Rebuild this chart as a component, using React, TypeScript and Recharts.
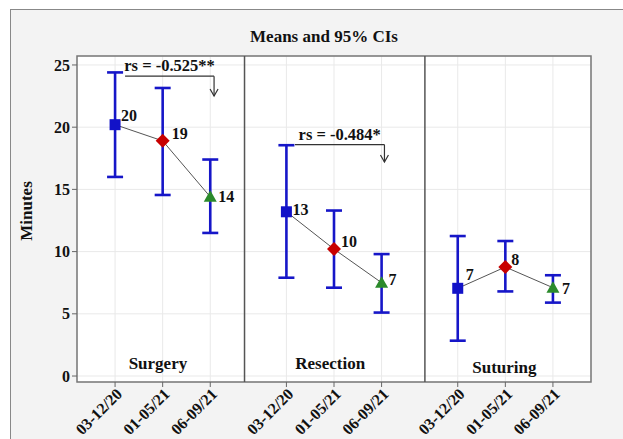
import React from 'react';
import {
  ComposedChart,
  Scatter,
  XAxis,
  YAxis,
  CartesianGrid,
  ErrorBar,
  ReferenceLine,
  ReferenceArea,
  ReferenceDot,
} from 'recharts';

// ---------------- data ----------------
const procedures = ['Surgery', 'Resection', 'Suturing'];
const periods = ['03-12/20', '01-05/21', '06-09/21'];
const yTicks = [0, 5, 10, 15, 20, 25];

const surgeryMean = [20.2, 18.9, 14.4];
const surgeryLower = [16.0, 14.55, 11.5];
const surgeryUpper = [24.4, 23.15, 17.4];
const surgeryLabels = ['20', '19', '14'];

const resectionMean = [13.2, 10.2, 7.5];
const resectionLower = [7.9, 7.1, 5.1];
const resectionUpper = [18.55, 13.3, 9.8];
const resectionLabels = ['13', '10', '7'];

const suturingMean = [7.05, 8.76, 7.1];
const suturingLower = [2.84, 6.8, 5.9];
const suturingUpper = [11.25, 10.85, 8.1];
const suturingLabels = ['7', '8', '7'];

const correlationTexts = ['rs = -0.525**', 'rs = -0.484*'];

// ---------------- layout / style ----------------
const FONT = '"Liberation Serif", "Times New Roman", Times, serif';
const GROUP_STEP = 3.6;
const X_DOMAIN: [number, number] = [-0.8, 10];
const Y_DOMAIN: [number, number] = [-0.48, 25.72];
const DIVIDERS = [2.72, 6.51];
const MARKER_COLORS = ['#1212c8', '#c80000', '#2b8a2b'];
const BAR_COLOR = '#1616c8';
const LABEL_OFFSETS = [
  [[6, -9], [9, -7], [8, 0]],
  [[6, -2], [7, -8], [7, -3]],
  [[8, -14], [6, -8], [9, 1]],
];
const PANEL_LABEL_POS = [
  { x: 0.9, y: 1.05 },
  { x: 4.52, y: 1.05 },
  { x: 8.18, y: 0.75 },
];
const ANNOTATIONS = [
  { x1: 0.21, x2: 2.08, y: 24.1, yArrow: 22.5 },
  { x1: 3.78, x2: 5.66, y: 18.6, yArrow: 17.2 },
];

const xPos = (g: number, i: number) => g * GROUP_STEP + i;
const xTicks: number[] = [];
procedures.forEach((_, g) => periods.forEach((__, i) => xTicks.push(xPos(g, i))));

const groupsData = [
  { mean: surgeryMean, lower: surgeryLower, upper: surgeryUpper, labels: surgeryLabels },
  { mean: resectionMean, lower: resectionLower, upper: resectionUpper, labels: resectionLabels },
  { mean: suturingMean, lower: suturingLower, upper: suturingUpper, labels: suturingLabels },
].map((s, g) =>
  s.mean.map((m, i) => ({
    x: xPos(g, i),
    mean: m,
    err: [m - s.lower[i], s.upper[i] - m],
    label: s.labels[i],
    group: g,
    period: i,
  }))
);

function PointShape(props: any) {
  const { cx, cy, payload } = props;
  if (cx == null || cy == null) return null;
  const i = payload.period;
  const g = payload.group;
  const [dx, dy] = LABEL_OFFSETS[g][i];
  let marker;
  if (i === 0) {
    marker = <rect x={cx - 5.5} y={cy - 5.5} width={11} height={11} fill={MARKER_COLORS[0]} />;
  } else if (i === 1) {
    marker = (
      <polygon
        points={`${cx},${cy - 7} ${cx + 7},${cy} ${cx},${cy + 7} ${cx - 7},${cy}`}
        fill={MARKER_COLORS[1]}
      />
    );
  } else {
    marker = (
      <polygon
        points={`${cx},${cy - 6.5} ${cx + 6.5},${cy + 5} ${cx - 6.5},${cy + 5}`}
        fill={MARKER_COLORS[2]}
      />
    );
  }
  return (
    <g>
      {marker}
      <text
        x={cx + dx}
        y={cy + dy}
        dominantBaseline="central"
        textAnchor="start"
        fontFamily={FONT}
        fontWeight="bold"
        fontSize={16}
        fill="#111"
      >
        {payload.label}
      </text>
    </g>
  );
}

function XTick(props: any) {
  const { x, y, payload } = props;
  const idx = xTicks.findIndex((t) => Math.abs(t - payload.value) < 1e-6);
  const label = idx >= 0 ? periods[idx % periods.length] : '';
  return (
    <g transform={`translate(${x + 8},${y + 6}) rotate(-45)`}>
      <text
        x={0}
        y={0}
        textAnchor="end"
        fontFamily={FONT}
        fontWeight="bold"
        fontSize={16}
        fill="#111"
      >
        {label}
      </text>
    </g>
  );
}

function ArrowLine(props: any) {
  const { x1, y1, x2, y2 } = props;
  if ([x1, y1, x2, y2].some((v) => v == null || isNaN(v))) return null;
  return (
    <g>
      <line x1={x1} y1={y1} x2={x2} y2={y2} stroke="#333" strokeWidth={1.2} />
      <path
        d={`M${x2 - 4},${y2 - 7} L${x2},${y2} L${x2 + 4},${y2 - 7}`}
        fill="none"
        stroke="#333"
        strokeWidth={1.2}
      />
    </g>
  );
}

export default function App() {
  return (
    <div
      style={{
        position: 'absolute',
        left: 0,
        top: 0,
        width: 623,
        height: 439,
        background: '#ffffff',
        overflow: 'hidden',
      }}
    >
      <div
        style={{
          position: 'absolute',
          left: 10,
          top: 9,
          width: 640,
          height: 460,
          background: '#f3f3f3',
          borderLeft: '1.5px solid #888',
          borderTop: '1.5px solid #888',
        }}
      />
      <div
        style={{
          position: 'absolute',
          left: 174,
          top: 27,
          width: 300,
          textAlign: 'center',
          fontFamily: FONT,
          fontWeight: 'bold',
          fontSize: 17,
          color: '#111',
          lineHeight: '20px',
        }}
      >
        Means and 95% CIs
      </div>
      <div
        style={{
          position: 'absolute',
          left: 27,
          top: 211,
          transform: 'translate(-50%, -50%) rotate(-90deg)',
          fontFamily: FONT,
          fontWeight: 'bold',
          fontSize: 17,
          color: '#111',
          whiteSpace: 'nowrap',
        }}
      >
        Minutes
      </div>
      <div style={{ position: 'absolute', left: 0, top: 0 }}>
        <ComposedChart
          width={623}
          height={439}
          margin={{ top: 56, right: 32, bottom: 0, left: 0 }}
        >
          <CartesianGrid stroke="#e9e9e9" fill="#ffffff" />
          <XAxis
            dataKey="x"
            type="number"
            domain={X_DOMAIN}
            ticks={xTicks}
            allowDataOverflow
            height={57}
            tick={<XTick />}
            tickSize={5}
            tickLine={{ stroke: '#666' }}
            axisLine={false}
            interval={0}
          />
          <YAxis
            type="number"
            domain={Y_DOMAIN}
            ticks={yTicks}
            allowDataOverflow
            width={77}
            tickSize={5}
            tickMargin={2}
            tickLine={{ stroke: '#666' }}
            axisLine={false}
            tick={{ fontFamily: FONT, fontWeight: 'bold', fontSize: 16, fill: '#111' }}
          />
          {DIVIDERS.map((d) => (
            <ReferenceLine key={d} x={d} stroke="#555" strokeWidth={1.5} />
          ))}
          {PANEL_LABEL_POS.map((p, g) => (
            <ReferenceDot
              key={procedures[g]}
              x={p.x}
              y={p.y}
              r={0}
              fill="none"
              stroke="none"
              label={{
                value: procedures[g],
                position: 'center',
                fontFamily: FONT,
                fontWeight: 'bold',
                fontSize: 17,
                fill: '#111',
              }}
            />
          ))}
          {ANNOTATIONS.map((a, k) => (
            <ReferenceLine
              key={`h${k}`}
              segment={[
                { x: a.x1, y: a.y },
                { x: a.x2, y: a.y },
              ]}
              stroke="#333"
              strokeWidth={1.2}
              label={{
                value: correlationTexts[k],
                position: 'top',
                offset: 5,
                fontFamily: FONT,
                fontWeight: 'bold',
                fontSize: 16.5,
                fill: '#111',
              }}
            />
          ))}
          {ANNOTATIONS.map((a, k) => (
            <ReferenceLine
              key={`v${k}`}
              segment={[
                { x: a.x2, y: a.y },
                { x: a.x2, y: a.yArrow },
              ]}
              shape={(p: any) => <ArrowLine {...p} />}
            />
          ))}
          {groupsData.map((data, g) => (
            <Scatter
              key={procedures[g]}
              data={data}
              dataKey="mean"
              line={{ stroke: '#555', strokeWidth: 1 }}
              lineType="joint"
              shape={<PointShape />}
              isAnimationActive={false}
            >
              <ErrorBar
                dataKey="err"
                direction="y"
                width={8}
                stroke={BAR_COLOR}
                strokeWidth={2.6}
                isAnimationActive={false}
              />
            </Scatter>
          ))}
          <ReferenceArea
            x1={X_DOMAIN[0]}
            x2={X_DOMAIN[1]}
            y1={Y_DOMAIN[0]}
            y2={Y_DOMAIN[1]}
            fill="none"
            fillOpacity={0}
            stroke="#777"
            strokeWidth={1.5}
          />
        </ComposedChart>
      </div>
    </div>
  );
}
